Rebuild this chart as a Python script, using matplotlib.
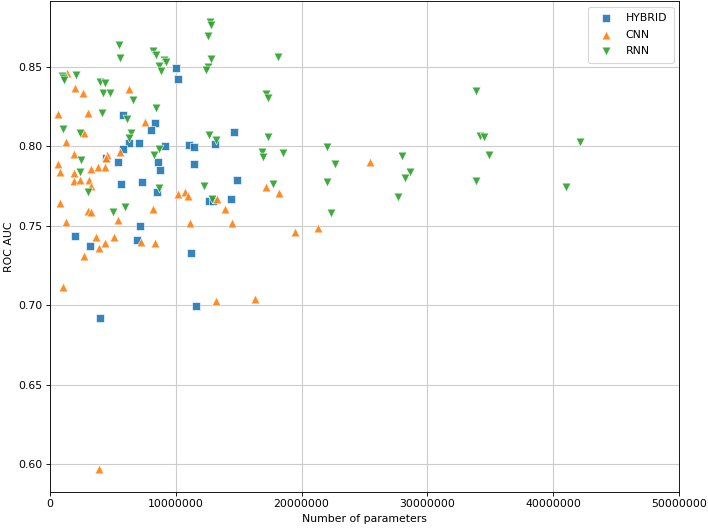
import matplotlib
matplotlib.use("Agg")
import matplotlib.pyplot as plt

# number of parameters (millions) and ROC AUC per model family
hybrid_params = [10.04, 10.20, 5.79, 8.37, 8.00, 14.62, 6.32, 7.04, 9.13, 11.02,
                 11.42, 13.11, 5.79, 4.47, 5.39, 8.58, 11.47, 8.73, 5.61, 7.30,
                 8.50, 14.84, 12.63, 12.95, 14.42, 7.12, 2.00, 6.91, 3.22, 11.22,
                 11.58, 3.94]
hybrid_auc = [0.8492, 0.8421, 0.8196, 0.8148, 0.8102, 0.8087, 0.8022, 0.8018, 0.8003, 0.8008,
              0.7997, 0.8014, 0.7980, 0.7928, 0.7903, 0.7901, 0.7890, 0.7848, 0.7760, 0.7773,
              0.7714, 0.7786, 0.7656, 0.7656, 0.7666, 0.7500, 0.7437, 0.7410, 0.7372, 0.7331,
              0.6995, 0.6918]

cnn_params = [1.34, 1.95, 2.61, 6.27, 0.62, 3.06, 7.52, 2.67, 1.29, 1.93,
              4.55, 4.47, 5.53, 0.62, 0.76, 1.89, 1.87, 2.35, 3.28, 3.80,
              4.34, 3.14, 3.28, 0.78, 3.06, 3.28, 5.39, 1.29, 8.18, 10.17,
              10.76, 10.96, 13.30, 13.94, 11.15, 14.49, 3.62, 4.34, 3.86, 5.05,
              7.26, 8.34, 2.74, 1.07, 13.17, 16.29, 3.86, 25.40, 17.20, 18.18,
              19.45, 21.28]
cnn_auc = [0.8462, 0.8368, 0.8333, 0.8358, 0.8203, 0.8207, 0.8154, 0.8085, 0.8028, 0.7949,
           0.7945, 0.7924, 0.7962, 0.7886, 0.7836, 0.7833, 0.7781, 0.7787, 0.7855, 0.7871,
           0.7867, 0.7787, 0.7752, 0.7645, 0.7594, 0.7588, 0.7536, 0.7525, 0.7605, 0.7699,
           0.7710, 0.7687, 0.7668, 0.7605, 0.7519, 0.7519, 0.7427, 0.7393, 0.7358, 0.7427,
           0.7399, 0.7393, 0.7311, 0.7116, 0.7028, 0.7037, 0.5970, 0.7903, 0.7745, 0.7704,
           0.7458, 0.7484]

rnn_params = [12.73, 12.77, 12.59, 5.45, 5.58, 8.21, 8.45, 9.05, 9.24, 8.63,
              8.85, 12.77, 12.55, 12.37, 0.97, 1.05, 1.15, 2.08, 3.99, 4.34,
              4.20, 4.81, 6.62, 8.42, 4.10, 6.14, 1.02, 2.40, 6.46, 6.27,
              12.61, 13.22, 8.69, 8.23, 2.48, 2.35, 3.06, 12.21, 12.87, 8.69,
              5.00, 5.95, 18.12, 17.14, 17.33, 17.33, 22.05, 16.88, 16.93, 18.52,
              22.63, 17.72, 22.05, 22.37, 33.83, 34.17, 34.51, 42.15, 27.96, 34.88,
              28.60, 28.26, 33.83, 40.99, 27.64]
rnn_auc = [0.8781, 0.8762, 0.8695, 0.8636, 0.8553, 0.8601, 0.8574, 0.8542, 0.8531, 0.8504,
           0.8473, 0.8548, 0.8500, 0.8479, 0.8442, 0.8431, 0.8416, 0.8448, 0.8406, 0.8396,
           0.8336, 0.8333, 0.8291, 0.8238, 0.8207, 0.8171, 0.8108, 0.8081, 0.8085, 0.8050,
           0.8070, 0.8039, 0.7982, 0.7945, 0.7913, 0.7840, 0.7710, 0.7752, 0.7668, 0.7735,
           0.7588, 0.7616, 0.8559, 0.8326, 0.8301, 0.8060, 0.7997, 0.7965, 0.7934, 0.7955,
           0.7886, 0.7762, 0.7777, 0.7578, 0.8349, 0.8066, 0.8060, 0.8028, 0.7938, 0.7945,
           0.7836, 0.7802, 0.7781, 0.7745, 0.7682]

# drawn at 9in wide and shrunk to 708 px, like the reference
dpi = 708 / 9.0
fig = plt.figure(figsize=(9.0, 528 / dpi), dpi=dpi)
ax = fig.add_axes([0.0706, 0.0688, 0.8884, 0.929])

ax.grid(True, color="#cccccc", linewidth=1.0)
ax.set_axisbelow(True)

ax.scatter([p * 1e6 for p in hybrid_params], hybrid_auc, marker="s", s=64,
           color="#1f77b4", edgecolors="white", linewidths=0.6, alpha=0.9, label="HYBRID")
ax.scatter([p * 1e6 for p in cnn_params], cnn_auc, marker="^", s=64,
           color="#ff7f0e", edgecolors="white", linewidths=0.6, alpha=0.9, label="CNN")
ax.scatter([p * 1e6 for p in rnn_params], rnn_auc, marker="v", s=64,
           color="#2ca02c", edgecolors="white", linewidths=0.6, alpha=0.9, label="RNN")

ax.set_xlim(0, 50000000)
ax.set_ylim(0.5828, 0.8912)
ax.ticklabel_format(axis="x", style="plain")
ax.set_yticks([0.60, 0.65, 0.70, 0.75, 0.80, 0.85])
ax.set_yticklabels(["0.60", "0.65", "0.70", "0.75", "0.80", "0.85"])

ax.set_xlabel("Number of parameters")
ax.set_ylabel("ROC AUC")
ax.legend(loc="upper right", borderpad=0.6, labelspacing=0.6)

fig.savefig("out.png", dpi=dpi)
